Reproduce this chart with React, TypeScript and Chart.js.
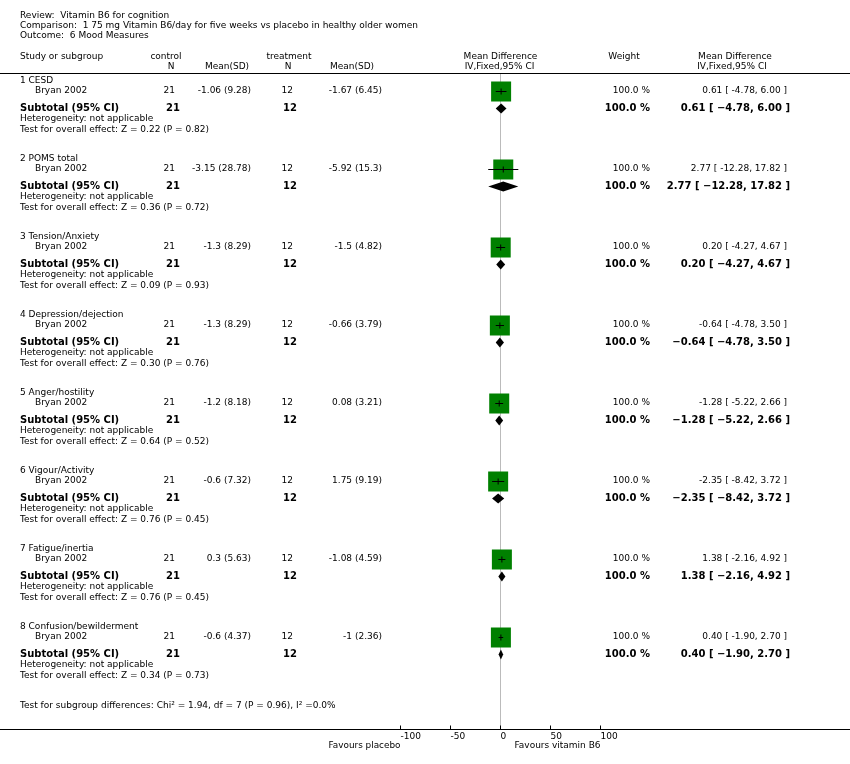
import React, { useEffect, useRef } from 'react';
import { Chart, registerables } from 'chart.js';
Chart.register(...registerables);

// ---------------- data ----------------
const titleLines = [
  'Review:  Vitamin B6 for cognition',
  'Comparison:  1 75 mg Vitamin B6/day for five weeks vs placebo in healthy older women',
  'Outcome:  6 Mood Measures',
];
const subgroups = [
  '1 CESD',
  '2 POMS total',
  '3 Tension/Anxiety',
  '4 Depression/dejection',
  '5 Anger/hostility',
  '6 Vigour/Activity',
  '7 Fatigue/inertia',
  '8 Confusion/bewilderment',
];
const studyName = 'Bryan 2002';
const controlN = [21, 21, 21, 21, 21, 21, 21, 21];
const controlMeanSD = ['-1.06 (9.28)', '-3.15 (28.78)', '-1.3 (8.29)', '-1.3 (8.29)', '-1.2 (8.18)', '-0.6 (7.32)', '0.3 (5.63)', '-0.6 (4.37)'];
const treatmentN = [12, 12, 12, 12, 12, 12, 12, 12];
const treatmentMeanSD = ['-1.67 (6.45)', '-5.92 (15.3)', '-1.5 (4.82)', '-0.66 (3.79)', '0.08 (3.21)', '1.75 (9.19)', '-1.08 (4.59)', '-1 (2.36)'];
const meanDiff = [0.61, 2.77, 0.2, -0.64, -1.28, -2.35, 1.38, 0.4];
const ciLow = [-4.78, -12.28, -4.27, -4.78, -5.22, -8.42, -2.16, -1.9];
const ciHigh = [6.0, 17.82, 4.67, 3.5, 2.66, 3.72, 4.92, 2.7];
const weights = [100, 100, 100, 100, 100, 100, 100, 100];
const overallZ = ['0.22', '0.36', '0.09', '0.30', '0.64', '0.76', '0.76', '0.34'];
const overallP = ['0.82', '0.72', '0.93', '0.76', '0.52', '0.45', '0.45', '0.73'];
const axisTicks = [-100, -50, 0, 50, 100];
const favoursLeft = 'Favours placebo';
const favoursRight = 'Favours vitamin B6';
const subgroupTest = 'Test for subgroup differences: Chi\u00B2 = 1.94, df = 7 (P = 0.96), I\u00B2 =0.0%';

// ---------------- layout ----------------
const W = 850;
const H = 764;
const GROUP_TOP = 81;
const GROUP_PITCH = 78;
const OFF = { label: 0, study: 10, subtotal: 27, het: 38, test: 49 };
const rowY = (g: number, k: keyof typeof OFF) => GROUP_TOP + GROUP_PITCH * g + OFF[k];
const AXIS_Y = 729.5;
const GREEN = '#008000';
const FONT = '"DejaVu Sans", Verdana, sans-serif';
const SMALL = `9px ${FONT}`;
const BOLD = `bold 10px ${FONT}`;

const fmt2 = (v: number) => v.toFixed(2);
const ciText = (i: number) => `${fmt2(meanDiff[i])} [ ${fmt2(ciLow[i])}, ${fmt2(ciHigh[i])} ]`;
const ciTextBold = (i: number) =>
  `${fmt2(meanDiff[i]).replace('-', '\u2212')} [ ${fmt2(ciLow[i]).replace('-', '\u2212')}, ${fmt2(ciHigh[i]).replace('-', '\u2212')} ]`;

function txt(ctx: CanvasRenderingContext2D, s: string, x: number, y: number, align: CanvasTextAlign, font: string, maxW?: number) {
  ctx.font = font;
  ctx.textAlign = align;
  ctx.textBaseline = 'middle';
  ctx.fillStyle = '#000';
  if (maxW) ctx.fillText(s, x, y, maxW);
  else ctx.fillText(s, x, y);
}

const forestPlugin = {
  id: 'forest',
  beforeDatasetsDraw(chart: any) {
    const { ctx, scales } = chart;
    const xs = scales.x;
    const x0 = xs.getPixelForValue(0);
    ctx.save();
    ctx.strokeStyle = '#bbbbbb';
    ctx.lineWidth = 1;
    ctx.beginPath();
    ctx.moveTo(x0, 74);
    ctx.lineTo(x0, AXIS_Y);
    ctx.stroke();
    ctx.restore();
  },
  afterDatasetsDraw(chart: any) {
    const { ctx, scales } = chart;
    const xs = scales.x;
    const ys = scales.y;
    ctx.save();
    ctx.fillStyle = '#000';
    subgroups.forEach((_, g) => {
      const yc = ys.getPixelForValue(rowY(g, 'subtotal') + 0.5);
      const xl = xs.getPixelForValue(ciLow[g]);
      const xm = xs.getPixelForValue(meanDiff[g]);
      const xr = xs.getPixelForValue(ciHigh[g]);
      ctx.beginPath();
      ctx.moveTo(xl, yc);
      ctx.lineTo(xm, yc - 5);
      ctx.lineTo(xr, yc);
      ctx.lineTo(xm, yc + 5);
      ctx.closePath();
      ctx.fill();
    });
    ctx.restore();
  },
  afterDraw(chart: any) {
    const { ctx, scales } = chart;
    const xs = scales.x;
    ctx.save();
    // titles
    titleLines.forEach((t, i) => txt(ctx, t, 20, 16 + i * 10, 'left', SMALL));
    // headers
    txt(ctx, 'Study or subgroup', 20, 57, 'left', SMALL);
    txt(ctx, 'control', 166, 57, 'center', SMALL);
    txt(ctx, 'N', 171, 67, 'center', SMALL);
    txt(ctx, 'Mean(SD)', 227, 67, 'center', SMALL);
    txt(ctx, 'treatment', 289, 57, 'center', SMALL);
    txt(ctx, 'N', 288, 67, 'center', SMALL);
    txt(ctx, 'Mean(SD)', 352, 67, 'center', SMALL);
    const x0 = xs.getPixelForValue(0);
    txt(ctx, 'Mean Difference', x0, 57, 'center', SMALL);
    txt(ctx, 'IV,Fixed,95% CI', x0 - 1, 67, 'center', SMALL);
    txt(ctx, 'Weight', 624, 57, 'center', SMALL);
    txt(ctx, 'Mean Difference', 735, 57, 'center', SMALL);
    txt(ctx, 'IV,Fixed,95% CI', 732, 67, 'center', SMALL);
    // header rule
    ctx.strokeStyle = '#000';
    ctx.lineWidth = 1;
    ctx.beginPath();
    ctx.moveTo(0, 73.5);
    ctx.lineTo(W, 73.5);
    ctx.stroke();

    subgroups.forEach((name, g) => {
      const yl = rowY(g, 'label');
      const yS = rowY(g, 'study');
      const yT = rowY(g, 'subtotal');
      txt(ctx, name, 20, yl, 'left', SMALL);
      txt(ctx, studyName, 35, yS, 'left', SMALL);
      txt(ctx, String(controlN[g]), 175, yS, 'right', SMALL);
      txt(ctx, controlMeanSD[g], 251, yS, 'right', SMALL);
      txt(ctx, String(treatmentN[g]), 293, yS, 'right', SMALL);
      txt(ctx, treatmentMeanSD[g], 382, yS, 'right', SMALL);
      txt(ctx, `${weights[g].toFixed(1)} %`, 650, yS, 'right', SMALL);
      txt(ctx, ciText(g), 787, yS, 'right', SMALL);

      txt(ctx, 'Subtotal (95% CI)', 20, yT, 'left', BOLD);
      txt(ctx, String(controlN[g]), 180, yT, 'right', BOLD);
      txt(ctx, String(treatmentN[g]), 297, yT, 'right', BOLD);
      txt(ctx, `${weights[g].toFixed(1)} %`, 650, yT, 'right', BOLD);
      txt(ctx, ciTextBold(g), 790, yT, 'right', BOLD);

      txt(ctx, 'Heterogeneity: not applicable', 20, rowY(g, 'het'), 'left', SMALL);
      txt(ctx, `Test for overall effect: Z = ${overallZ[g]} (P = ${overallP[g]})`, 20, rowY(g, 'test'), 'left', SMALL);
    });

    txt(ctx, subgroupTest, 20, 706, 'left', SMALL, 322);

    // axis
    ctx.strokeStyle = '#000';
    ctx.lineWidth = 1;
    ctx.beginPath();
    ctx.moveTo(0, AXIS_Y);
    ctx.lineTo(W, AXIS_Y);
    ctx.stroke();
    axisTicks.forEach((t) => {
      const px = Math.round(xs.getPixelForValue(t) - 0.5) + 0.5;
      ctx.beginPath();
      ctx.moveTo(px, AXIS_Y - 4);
      ctx.lineTo(px, AXIS_Y);
      ctx.stroke();
      txt(ctx, String(t), px, 737, 'left', SMALL);
    });
    txt(ctx, favoursLeft, xs.getPixelForValue(-100), 746, 'right', SMALL, 72);
    txt(ctx, favoursRight, xs.getPixelForValue(100), 746, 'right', SMALL, 86);
    ctx.restore();
  },
};

export default function App() {
  const ref = useRef<HTMLCanvasElement | null>(null);
  useEffect(() => {
    if (!ref.current) return;
    const studyPts = subgroups.map((_, g) => ({ x: meanDiff[g], y: rowY(g, 'study') + 0.5 }));
    const ciSets = subgroups.map((_, g) => ({
      type: 'line' as const,
      data: [
        { x: ciLow[g], y: rowY(g, 'study') + 0.5 },
        { x: ciHigh[g], y: rowY(g, 'study') + 0.5 },
      ],
      showLine: true,
      borderColor: '#000',
      borderWidth: 1,
      pointRadius: 0,
      fill: false,
      order: 1,
    }));
    const chart = new Chart(ref.current, {
      type: 'scatter',
      data: {
        datasets: [
          {
            data: studyPts,
            pointStyle: 'rect',
            pointRadius: 20 / Math.SQRT2,
            pointBackgroundColor: GREEN,
            backgroundColor: GREEN,
            borderWidth: 0,
            pointBorderWidth: 0,
            order: 3,
          } as any,
          ...ciSets,
          {
            data: studyPts,
            pointStyle: 'line',
            rotation: 90,
            pointRadius: 3,
            borderColor: '#000',
            pointBorderColor: '#000',
            borderWidth: 1,
            order: 0,
          } as any,
        ],
      },
      options: {
        responsive: false,
        devicePixelRatio: 1,
        animation: false,
        layout: { autoPadding: false, padding: { left: 400.5, right: 249.5, top: 0, bottom: 0 } },
        scales: {
          x: { type: 'linear', min: -100, max: 100, display: false },
          y: { type: 'linear', min: 0, max: H, reverse: true, display: false },
        },
        plugins: { legend: { display: false }, tooltip: { enabled: false } },
        events: [],
      },
      plugins: [forestPlugin],
    } as any);
    return () => chart.destroy();
  }, []);
  return (
    <div style={{ position: 'fixed', left: 0, top: 0, width: W, height: H, background: '#fff' }}>
      <canvas ref={ref} width={W} height={H} style={{ width: W, height: H, display: 'block' }} />
    </div>
  );
}
